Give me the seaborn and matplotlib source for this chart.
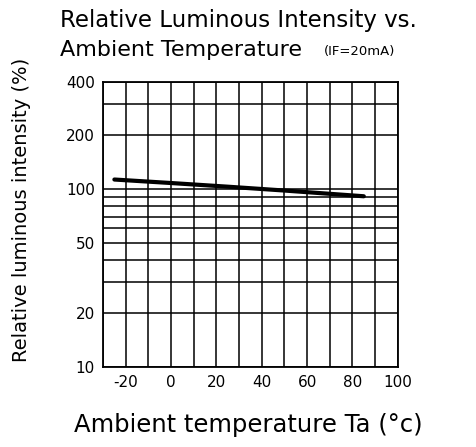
import numpy as np
import pandas as pd
import matplotlib
matplotlib.use("Agg")
import matplotlib.pyplot as plt
import seaborn as sns
from matplotlib.ticker import FixedLocator, NullFormatter, NullLocator

# Data
temperature = [-25, 0, 25, 50, 85]
intensity = [113, 108, 103, 98, 91]
x_ticks = [-20, 0, 20, 40, 60, 80, 100]
y_ticks = [10, 20, 50, 100, 200, 400]
y_grid = [10, 20, 30, 40, 50, 60, 70, 80, 90, 100, 200, 300, 400]
x_grid = list(range(-30, 101, 10))

sns.set_theme(style="white")
plt.rcParams["font.family"] = ["DejaVu Sans"]

df = pd.DataFrame({"Ta": temperature, "Iv": intensity})

fig = plt.figure(figsize=(4.77, 4.47), dpi=100)
ax = fig.add_axes([0.216, 0.179, 0.618, 0.638])

ax.set_yscale("log")
ax.set_xlim(-30, 100)
ax.set_ylim(10, 400)

# grid lines
for gx in x_grid:
    ax.axvline(gx, color="black", lw=1.1, zorder=1)
for gy in y_grid:
    ax.axhline(gy, color="black", lw=1.1, zorder=1)

sns.lineplot(data=df, x="Ta", y="Iv", ax=ax, color="black", lw=3, zorder=3)

ax.yaxis.set_major_locator(FixedLocator(y_ticks))
ax.yaxis.set_minor_locator(NullLocator())
ax.yaxis.set_minor_formatter(NullFormatter())
ax.set_yticklabels([str(t) for t in y_ticks])
ax.set_xticks(x_ticks)
ax.set_xticklabels([str(t) for t in x_ticks])
ax.tick_params(axis="both", length=0, labelsize=11, colors="black", pad=6)

for s in ax.spines.values():
    s.set_color("black")
    s.set_linewidth(1.3)

ax.set_xlabel("")
ax.set_ylabel("")

fig.text(0.126, 0.955, "Relative Luminous Intensity vs.", fontsize=16.5,
         ha="left", va="center", color="black")
fig.text(0.126, 0.888, "Ambient Temperature", fontsize=16,
         ha="left", va="center", color="black")
fig.text(0.68, 0.885, "(IF=20mA)", fontsize=9.5,
         ha="left", va="center", color="black")
fig.text(0.155, 0.05, "Ambient temperature Ta (°c)", fontsize=17.5,
         ha="left", va="center", color="black")
fig.text(0.045, 0.53, "Relative luminous intensity (%)", fontsize=14,
         rotation=90, ha="center", va="center", color="black")

fig.savefig("out.png", dpi=100)
